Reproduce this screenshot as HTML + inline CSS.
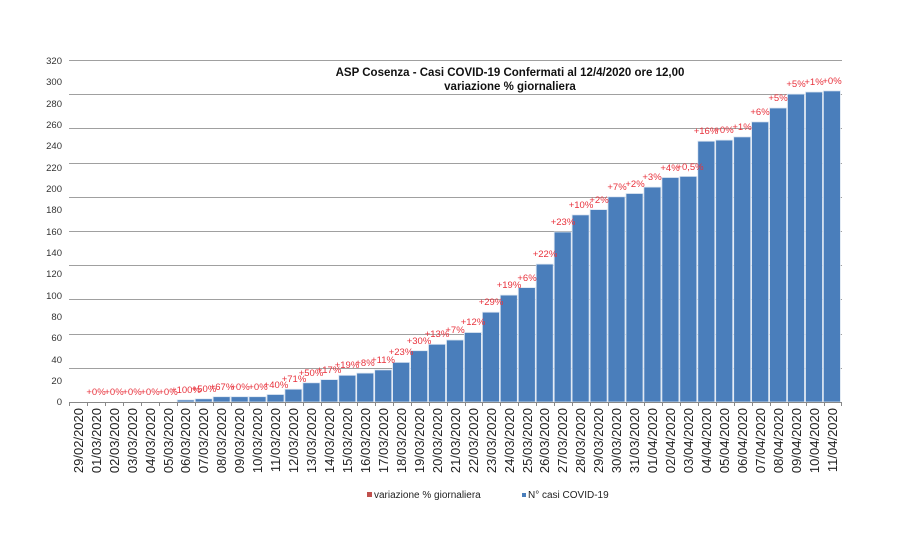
<!DOCTYPE html>
<html><head><meta charset="utf-8"><style>
html,body{margin:0;padding:0;background:#fff;}
svg{display:block;font-family:"Liberation Sans",Arial,sans-serif;}
.yl{font-size:9.5px;fill:#333;text-anchor:end}
.pl{font-size:9.5px;fill:#e8323c;text-anchor:middle}
.dl{font-size:13px;fill:#222;text-anchor:end}
</style></head><body>
<svg width="900" height="543" viewBox="0 0 900 543">
<rect width="900" height="543" fill="#fff"/>
<g stroke="#a0a0a0" stroke-width="1">
<line x1="69" y1="60.5" x2="842" y2="60.5"/>
<line x1="69" y1="94.5" x2="842" y2="94.5"/>
<line x1="69" y1="128.5" x2="842" y2="128.5"/>
<line x1="69" y1="163.5" x2="842" y2="163.5"/>
<line x1="69" y1="197.5" x2="842" y2="197.5"/>
<line x1="69" y1="231.5" x2="842" y2="231.5"/>
<line x1="69" y1="265.5" x2="842" y2="265.5"/>
<line x1="69" y1="299.5" x2="842" y2="299.5"/>
<line x1="69" y1="334.5" x2="842" y2="334.5"/>
<line x1="69" y1="368.5" x2="842" y2="368.5"/>
</g>
<g class="yl">
<text x="62" y="64">320</text><text x="62" y="85">300</text><text x="62" y="107">280</text><text x="62" y="128">260</text><text x="62" y="149">240</text><text x="62" y="171">220</text><text x="62" y="192">200</text><text x="62" y="213">180</text><text x="62" y="235">160</text><text x="62" y="256">140</text><text x="62" y="277">120</text><text x="62" y="299">100</text><text x="62" y="320">80</text><text x="62" y="341">60</text><text x="62" y="363">40</text><text x="62" y="384">20</text><text x="62" y="405">0</text>
</g>
<text x="510" y="76" font-size="11.5" font-weight="bold" text-anchor="middle" fill="#111">ASP Cosenza - Casi COVID-19 Confermati al 12/4/2020 ore 12,00</text>
<text x="510" y="90" font-size="11.5" font-weight="bold" text-anchor="middle" fill="#111">variazione % giornaliera</text>
<g fill="#4a7ebb" stroke="#dce6f2" stroke-width="0.8">
<rect x="177.2" y="399.9" width="17" height="2.1"/>
<rect x="195.2" y="398.8" width="17" height="3.2"/>
<rect x="213.1" y="396.7" width="17" height="5.3"/>
<rect x="231.1" y="396.7" width="17" height="5.3"/>
<rect x="249.0" y="396.7" width="17" height="5.3"/>
<rect x="267.0" y="394.5" width="17" height="7.5"/>
<rect x="284.9" y="389.2" width="17" height="12.8"/>
<rect x="302.9" y="382.8" width="17" height="19.2"/>
<rect x="320.8" y="379.6" width="17" height="22.4"/>
<rect x="338.8" y="375.3" width="17" height="26.7"/>
<rect x="356.7" y="373.1" width="17" height="28.9"/>
<rect x="374.7" y="369.9" width="17" height="32.1"/>
<rect x="392.6" y="362.4" width="17" height="39.6"/>
<rect x="410.6" y="350.7" width="17" height="51.3"/>
<rect x="428.5" y="344.3" width="17" height="57.7"/>
<rect x="446.5" y="340.0" width="17" height="62"/>
<rect x="464.4" y="332.5" width="17" height="69.5"/>
<rect x="482.4" y="312.2" width="17" height="89.8"/>
<rect x="500.3" y="295.1" width="17" height="106.9"/>
<rect x="518.3" y="287.6" width="17" height="114.4"/>
<rect x="536.2" y="264.1" width="17" height="137.9"/>
<rect x="554.2" y="232.0" width="17" height="170"/>
<rect x="572.1" y="214.9" width="17" height="187.1"/>
<rect x="590.1" y="209.6" width="17" height="192.4"/>
<rect x="608.0" y="196.8" width="17" height="205.2"/>
<rect x="626.0" y="193.5" width="17" height="208.5"/>
<rect x="643.9" y="187.1" width="17" height="214.9"/>
<rect x="661.9" y="177.5" width="17" height="224.5"/>
<rect x="679.8" y="176.4" width="17" height="225.6"/>
<rect x="697.8" y="141.2" width="17" height="260.8"/>
<rect x="715.7" y="140.1" width="17" height="261.9"/>
<rect x="733.7" y="136.9" width="17" height="265.1"/>
<rect x="751.6" y="121.9" width="17" height="280.1"/>
<rect x="769.6" y="108.0" width="17" height="294"/>
<rect x="787.5" y="94.1" width="17" height="307.9"/>
<rect x="805.5" y="92.0" width="17" height="310"/>
<rect x="823.4" y="90.9" width="17" height="311.1"/>
</g>
<g stroke="#888" stroke-width="1">
<line x1="69" y1="402.5" x2="842" y2="402.5"/>
<line x1="69.5" y1="402" x2="69.5" y2="406"/><line x1="87.5" y1="402" x2="87.5" y2="406"/><line x1="105.5" y1="402" x2="105.5" y2="406"/><line x1="123.5" y1="402" x2="123.5" y2="406"/><line x1="141.5" y1="402" x2="141.5" y2="406"/><line x1="159.5" y1="402" x2="159.5" y2="406"/><line x1="177.5" y1="402" x2="177.5" y2="406"/><line x1="195.5" y1="402" x2="195.5" y2="406"/><line x1="213.5" y1="402" x2="213.5" y2="406"/><line x1="231.5" y1="402" x2="231.5" y2="406"/><line x1="249.5" y1="402" x2="249.5" y2="406"/><line x1="267.5" y1="402" x2="267.5" y2="406"/><line x1="285.5" y1="402" x2="285.5" y2="406"/><line x1="303.5" y1="402" x2="303.5" y2="406"/><line x1="321.5" y1="402" x2="321.5" y2="406"/><line x1="339.5" y1="402" x2="339.5" y2="406"/><line x1="357.5" y1="402" x2="357.5" y2="406"/><line x1="375.5" y1="402" x2="375.5" y2="406"/><line x1="393.5" y1="402" x2="393.5" y2="406"/><line x1="411.5" y1="402" x2="411.5" y2="406"/><line x1="429.5" y1="402" x2="429.5" y2="406"/><line x1="447.5" y1="402" x2="447.5" y2="406"/><line x1="465.5" y1="402" x2="465.5" y2="406"/><line x1="482.5" y1="402" x2="482.5" y2="406"/><line x1="500.5" y1="402" x2="500.5" y2="406"/><line x1="518.5" y1="402" x2="518.5" y2="406"/><line x1="536.5" y1="402" x2="536.5" y2="406"/><line x1="554.5" y1="402" x2="554.5" y2="406"/><line x1="572.5" y1="402" x2="572.5" y2="406"/><line x1="590.5" y1="402" x2="590.5" y2="406"/><line x1="608.5" y1="402" x2="608.5" y2="406"/><line x1="626.5" y1="402" x2="626.5" y2="406"/><line x1="644.5" y1="402" x2="644.5" y2="406"/><line x1="662.5" y1="402" x2="662.5" y2="406"/><line x1="680.5" y1="402" x2="680.5" y2="406"/><line x1="698.5" y1="402" x2="698.5" y2="406"/><line x1="716.5" y1="402" x2="716.5" y2="406"/><line x1="734.5" y1="402" x2="734.5" y2="406"/><line x1="752.5" y1="402" x2="752.5" y2="406"/><line x1="770.5" y1="402" x2="770.5" y2="406"/><line x1="788.5" y1="402" x2="788.5" y2="406"/><line x1="806.5" y1="402" x2="806.5" y2="406"/><line x1="824.5" y1="402" x2="824.5" y2="406"/><line x1="841.5" y1="402" x2="841.5" y2="406"/>
</g>
<g class="pl">
<text x="96" y="395">+0%</text><text x="114" y="395">+0%</text><text x="132" y="395">+0%</text><text x="150" y="395">+0%</text><text x="168" y="395">+0%</text>
<text x="186" y="393">+100%</text><text x="204" y="392">+50%</text><text x="222" y="390">+67%</text><text x="240" y="390">+0%</text><text x="258" y="390">+0%</text>
<text x="276" y="388">+40%</text><text x="294" y="382">+71%</text><text x="311" y="376">+50%</text><text x="329" y="373">+17%</text><text x="347" y="368">+19%</text>
<text x="365" y="366">+8%</text><text x="383" y="363">+11%</text><text x="401" y="355">+23%</text><text x="419" y="344">+30%</text><text x="437" y="337">+13%</text>
<text x="455" y="333">+7%</text><text x="473" y="325">+12%</text><text x="491" y="305">+29%</text><text x="509" y="288">+19%</text><text x="527" y="281">+6%</text>
<text x="545" y="257">+22%</text><text x="563" y="225">+23%</text><text x="581" y="208">+10%</text><text x="599" y="203">+2%</text><text x="617" y="190">+7%</text>
<text x="635" y="187">+2%</text><text x="652" y="180">+3%</text><text x="670" y="171">+4%</text><text x="690" y="170">+0,5%</text><text x="706" y="134">+16%</text>
<text x="724" y="133">+0%</text><text x="742" y="130">+1%</text><text x="760" y="115">+6%</text><text x="778" y="101">+5%</text><text x="796" y="87">+5%</text>
<text x="814" y="85">+1%</text><text x="832" y="84">+0%</text>
</g>
<g class="dl">
<text transform="translate(83,408) rotate(-90)">29/02/2020</text>
<text transform="translate(101,408) rotate(-90)">01/03/2020</text>
<text transform="translate(119,408) rotate(-90)">02/03/2020</text>
<text transform="translate(137,408) rotate(-90)">03/03/2020</text>
<text transform="translate(155,408) rotate(-90)">04/03/2020</text>
<text transform="translate(173,408) rotate(-90)">05/03/2020</text>
<text transform="translate(190,408) rotate(-90)">06/03/2020</text>
<text transform="translate(208,408) rotate(-90)">07/03/2020</text>
<text transform="translate(226,408) rotate(-90)">08/03/2020</text>
<text transform="translate(244,408) rotate(-90)">09/03/2020</text>
<text transform="translate(262,408) rotate(-90)">10/03/2020</text>
<text transform="translate(280,408) rotate(-90)">11/03/2020</text>
<text transform="translate(298,408) rotate(-90)">12/03/2020</text>
<text transform="translate(316,408) rotate(-90)">13/03/2020</text>
<text transform="translate(334,408) rotate(-90)">14/03/2020</text>
<text transform="translate(352,408) rotate(-90)">15/03/2020</text>
<text transform="translate(370,408) rotate(-90)">16/03/2020</text>
<text transform="translate(388,408) rotate(-90)">17/03/2020</text>
<text transform="translate(406,408) rotate(-90)">18/03/2020</text>
<text transform="translate(424,408) rotate(-90)">19/03/2020</text>
<text transform="translate(442,408) rotate(-90)">20/03/2020</text>
<text transform="translate(460,408) rotate(-90)">21/03/2020</text>
<text transform="translate(478,408) rotate(-90)">22/03/2020</text>
<text transform="translate(496,408) rotate(-90)">23/03/2020</text>
<text transform="translate(514,408) rotate(-90)">24/03/2020</text>
<text transform="translate(532,408) rotate(-90)">25/03/2020</text>
<text transform="translate(549,408) rotate(-90)">26/03/2020</text>
<text transform="translate(567,408) rotate(-90)">27/03/2020</text>
<text transform="translate(585,408) rotate(-90)">28/03/2020</text>
<text transform="translate(603,408) rotate(-90)">29/03/2020</text>
<text transform="translate(621,408) rotate(-90)">30/03/2020</text>
<text transform="translate(639,408) rotate(-90)">31/03/2020</text>
<text transform="translate(657,408) rotate(-90)">01/04/2020</text>
<text transform="translate(675,408) rotate(-90)">02/04/2020</text>
<text transform="translate(693,408) rotate(-90)">03/04/2020</text>
<text transform="translate(711,408) rotate(-90)">04/04/2020</text>
<text transform="translate(729,408) rotate(-90)">05/04/2020</text>
<text transform="translate(747,408) rotate(-90)">06/04/2020</text>
<text transform="translate(765,408) rotate(-90)">07/04/2020</text>
<text transform="translate(783,408) rotate(-90)">08/04/2020</text>
<text transform="translate(801,408) rotate(-90)">09/04/2020</text>
<text transform="translate(819,408) rotate(-90)">10/04/2020</text>
<text transform="translate(837,408) rotate(-90)">11/04/2020</text>
</g>
<rect x="367" y="492" width="5" height="5" fill="#c0504d"/>
<text x="374" y="498" font-size="10" fill="#222">variazione % giornaliera</text>
<rect x="522" y="493" width="4" height="4" fill="#4a7ebb"/>
<text x="528" y="498" font-size="10" fill="#222">N° casi COVID-19</text>
</svg>
</body></html>
